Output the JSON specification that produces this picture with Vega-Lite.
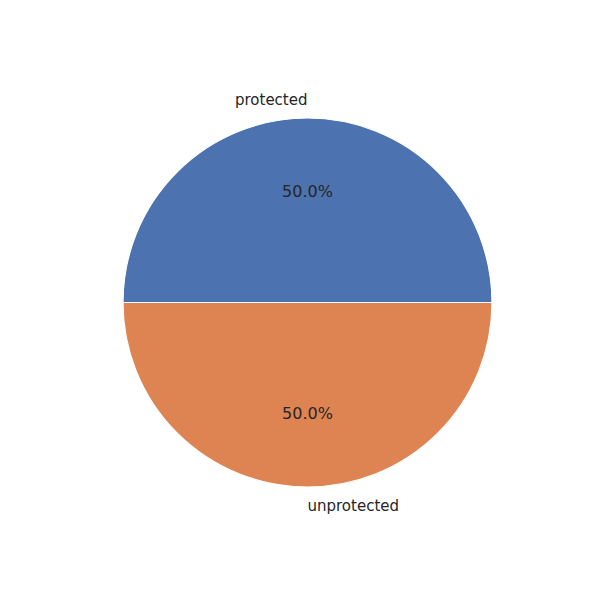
{
  "$schema": "https://vega.github.io/schema/vega-lite/v6.json",
  "autosize": "none",
  "width": 585,
  "height": 595,
  "padding": {"left": 15, "top": 5, "right": 0, "bottom": 0},
  "background": "white",
  "view": {"stroke": null},
  "data": {"values": [
    {"category": "protected", "value": 1, "pct": "50.0%", "order": 1},
    {"category": "unprotected", "value": 1, "pct": "50.0%", "order": 2}
  ]},
  "encoding": {
    "theta": {"field": "value", "type": "quantitative", "stack": true, "scale": {"range": [-1.5707963, 4.7123890]}},
    "order": {"field": "order", "type": "quantitative"}
  },
  "layer": [
    {
      "mark": {"type": "arc", "outerRadius": 184.5, "stroke": "white", "strokeWidth": 1.2},
      "encoding": {
        "color": {"field": "category", "type": "nominal", "scale": {"domain": ["protected", "unprotected"], "range": ["#4C72B0", "#DD8452"]}, "legend": null}
      }
    },
    {
      "mark": {"type": "text", "radius": 111, "fontSize": 16, "font": "DejaVu Sans", "color": "#262626", "baseline": "middle", "align": "center"},
      "encoding": {"text": {"field": "pct"}}
    },
    {
      "mark": {"type": "text", "radius": 203, "fontSize": 15, "font": "DejaVu Sans", "color": "#262626", "baseline": "middle", "align": "right"},
      "encoding": {"text": {"condition": {"test": "datum.category === 'protected'", "field": "category"}, "value": ""}}
    },
    {
      "mark": {"type": "text", "radius": 203, "fontSize": 15, "font": "DejaVu Sans", "color": "#262626", "baseline": "middle", "align": "left"},
      "encoding": {"text": {"condition": {"test": "datum.category === 'unprotected'", "field": "category"}, "value": ""}}
    }
  ]
}
